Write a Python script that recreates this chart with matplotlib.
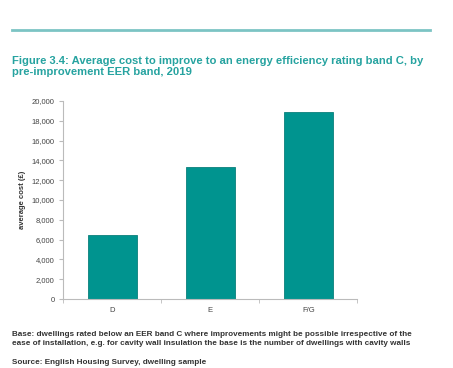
import matplotlib.pyplot as plt
import numpy as np

categories = ['D', 'E', 'F/G']
avg_cost = [6450, 13300, 18900]
yticks = np.arange(0, 20001, 2000)

teal = '#00948f'
title_col = '#26a3a0'
grey = '#bbbbbb'

fig = plt.figure(figsize=(4.53, 3.68), dpi=100)
fig.patch.set_facecolor('white')

# top rule
fig.add_artist(plt.Line2D([12 / 453, 430 / 453], [1 - 30 / 368, 1 - 30 / 368],
                          color='#7cc4c4', linewidth=2))

fig.text(12 / 453, 1 - 66.5 / 368,
         'Figure 3.4: Average cost to improve to an energy efficiency rating band C, by\npre-improvement EER band, 2019',
         color=title_col, fontsize=8.15, fontweight='bold', va='center', ha='left',
         linespacing=1.1, family='Liberation Sans')

ax = fig.add_axes([63 / 453, 69 / 368, 294.5 / 453, 198 / 368])
x = np.arange(len(categories))
ax.bar(x, avg_cost, width=0.5, color=teal, edgecolor='#0a7f7b', linewidth=0.6)
ax.set_xlim(-0.5, len(categories) - 0.5)
ax.set_ylim(0, 20000)
ax.set_yticks(yticks)
ax.set_yticklabels([f'{v:,}' for v in yticks])
ax.set_xticks(x)
ax.set_xticklabels(categories)
ax.set_xticks(np.arange(-0.5, len(categories)), minor=True)
ax.tick_params(axis='x', which='major', length=0, pad=6)
ax.tick_params(axis='x', which='minor', length=3, color=grey)
ax.tick_params(axis='y', length=3, color=grey, pad=3)
for lab in ax.get_xticklabels() + ax.get_yticklabels():
    lab.set_fontsize(5.5)
    lab.set_color('#444444')
    lab.set_family('Liberation Sans')
for s in ['top', 'right']:
    ax.spines[s].set_visible(False)
for s in ['left', 'bottom']:
    ax.spines[s].set_color(grey)
    ax.spines[s].set_linewidth(0.8)
ax.set_ylabel('average cost (£)', fontsize=5.5, fontweight='bold', color='#333333',
              family='Liberation Sans', labelpad=4)

fig.text(12 / 453, 1 - 339 / 368,
         'Base: dwellings rated below an EER band C where improvements might be possible irrespective of the\n'
         'ease of installation, e.g. for cavity wall insulation the base is the number of dwellings with cavity walls',
         fontsize=5.85, fontweight='bold', color='#333333', va='center', ha='left',
         linespacing=1.25, family='Liberation Sans')
fig.text(12 / 453, 1 - 363 / 368, 'Source: English Housing Survey, dwelling sample',
         fontsize=5.85, fontweight='bold', color='#333333', va='center', ha='left',
         family='Liberation Sans')

fig.savefig('out.png', dpi=100)
